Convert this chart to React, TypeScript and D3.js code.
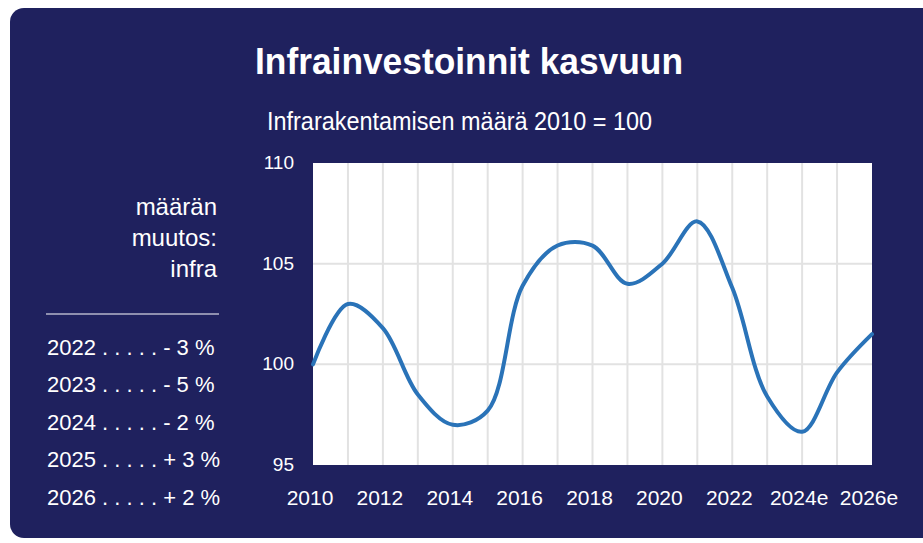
import React from "react";
import * as d3 from "d3";

const years = [2010, 2011, 2012, 2013, 2014, 2015, 2016, 2017, 2018, 2019, 2020, 2021, 2022, 2023, 2024, 2025, 2026];
const values = [100, 103, 101.8, 98.5, 97.0, 97.7, 103.9, 105.9, 105.9, 104.0, 105.0, 107.1, 103.8, 98.4, 96.65, 99.6, 101.5];
const xTickYears = [2010, 2012, 2014, 2016, 2018, 2020, 2022, 2024, 2026];
const xTickLabels = ["2010", "2012", "2014", "2016", "2018", "2020", "2022", "2024e", "2026e"];
const yTicks = [95, 100, 105, 110];
const yGrid = [100, 105];
const legendHeader = ["määrän", "muutos:", "infra"];
const legendRows = ["2022 . . . . . - 3 %", "2023 . . . . . - 5 %", "2024 . . . . . - 2 %", "2025 . . . . . + 3 %", "2026 . . . . . + 2 %"];
const title = "Infrainvestoinnit kasvuun";
const subtitle = "Infrarakentamisen määrä 2010 = 100";

const W = 923, H = 543;
const plot = { l: 313, r: 872, t: 163, b: 465 };
const NAVY = "#1f215e";
const SANS = "'Liberation Sans', Arial, sans-serif";

export default function App() {
  const x = d3.scaleLinear().domain([2010, 2026]).range([plot.l, plot.r]);
  const y = d3.scaleLinear().domain([95, 110]).range([plot.b, plot.t]);
  const line = d3
    .line<number>()
    .x((_, i) => x(years[i]))
    .y((d) => y(d))
    .curve(d3.curveCatmullRom.alpha(0.5));
  const innerYears = years.filter((yr) => yr > 2010 && yr < 2026);
  const headerBaselines = [215, 246, 277];
  const rowBaselines = [355, 392, 430, 467, 505];

  return (
    <svg width={W} height={H} style={{ position: "absolute", left: 0, top: 0, display: "block" }}>
      <rect x={0} y={0} width={W} height={H} fill="#ffffff" />
      <rect x={10} y={8} width={930} height={530} rx={14} ry={14} fill={NAVY} />
      <text x={469} y={74} textAnchor="middle" fill="#fff" fontFamily={SANS} fontWeight="bold" fontSize={36}
        textLength={428} lengthAdjust="spacingAndGlyphs">
        {title}
      </text>
      <text x={267} y={130} fill="#fff" fontFamily={SANS} fontSize={25} textLength={385} lengthAdjust="spacingAndGlyphs">
        {subtitle}
      </text>

      <rect x={plot.l} y={plot.t} width={plot.r - plot.l} height={plot.b - plot.t} fill="#ffffff" />
      {innerYears.map((yr) => (
        <line key={yr} x1={x(yr)} x2={x(yr)} y1={plot.t} y2={plot.b} stroke="#e2e2e2" strokeWidth={2} />
      ))}
      {yGrid.map((v) => (
        <line key={v} x1={plot.l} x2={plot.r} y1={y(v)} y2={y(v)} stroke="#e2e2e2" strokeWidth={2} />
      ))}
      <path d={line(values) || ""} fill="none" stroke="#2a73b8" strokeWidth={4} strokeLinecap="round" />

      {yTicks.map((v) => (
        <text key={v} x={294} y={y(v) + 6} textAnchor="end" fill="#fff" fontFamily={SANS} fontSize={19}>
          {v}
        </text>
      ))}
      {xTickYears.map((yr, i) => (
        <text key={yr} x={x(yr) - 3} y={505} textAnchor="middle" fill="#fff" fontFamily={SANS} fontSize={21}>
          {xTickLabels[i]}
        </text>
      ))}

      {legendHeader.map((t, i) => (
        <text key={t} x={217} y={headerBaselines[i]} textAnchor="end" fill="#fff" fontFamily={SANS} fontSize={24}>
          {t}
        </text>
      ))}
      <line x1={46} x2={219} y1={314} y2={314} stroke="#fff" strokeWidth={1} />
      {legendRows.map((t, i) => (
        <text key={t} x={47} y={rowBaselines[i]} fill="#fff" fontFamily={SANS} fontSize={22}>
          {t}
        </text>
      ))}
    </svg>
  );
}
